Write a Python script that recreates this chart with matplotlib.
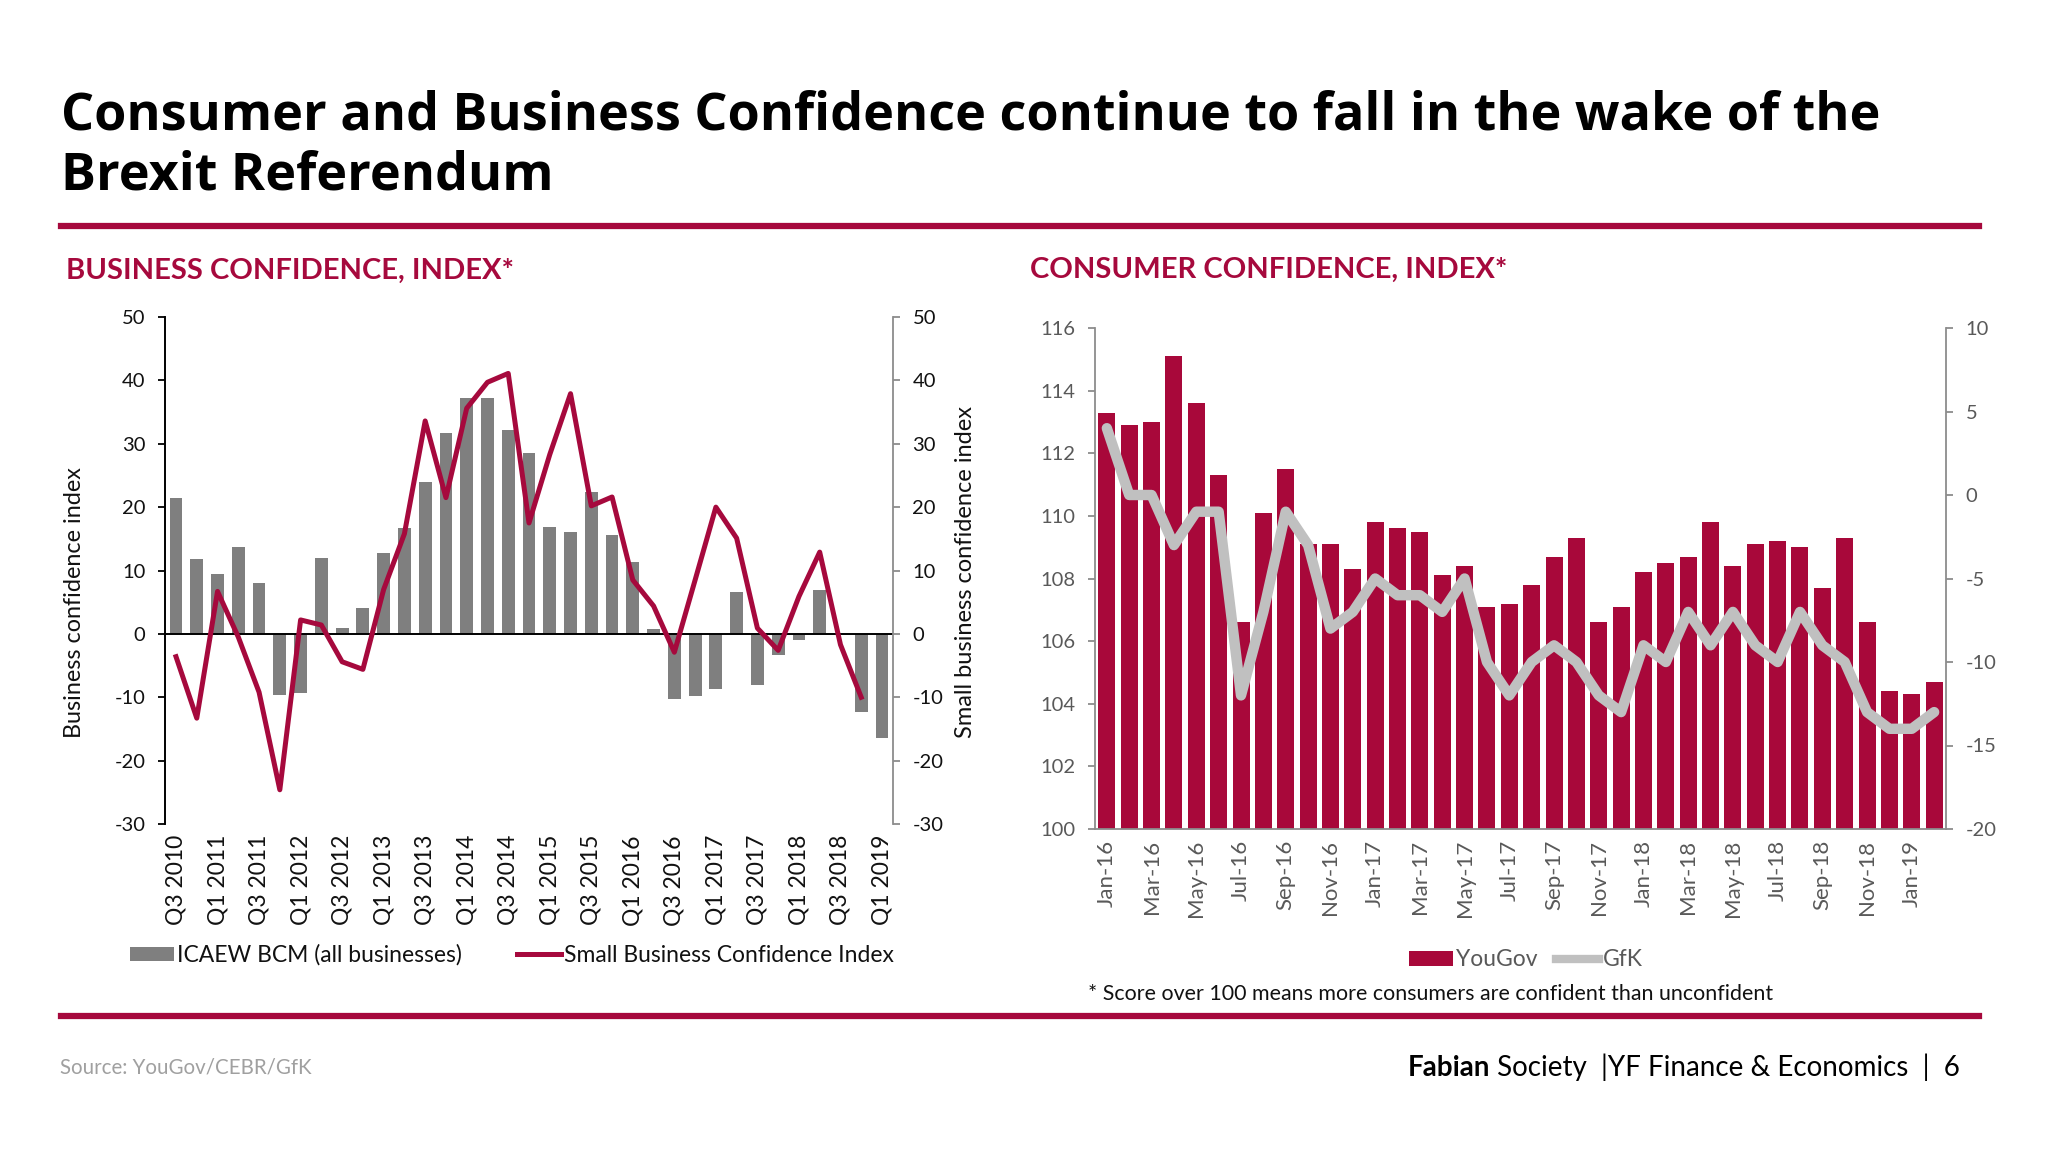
import matplotlib
matplotlib.use('Agg')
import matplotlib.pyplot as plt
import numpy as np
from matplotlib.lines import Line2D
from matplotlib.patches import Patch
from matplotlib.text import Annotation

plt.rcParams['font.family'] = ['Lato', 'DejaVu Sans']
plt.rcParams['axes.unicode_minus'] = False

# ---------------- data ----------------
quarters = ['Q3 2010', 'Q4 2010', 'Q1 2011', 'Q2 2011', 'Q3 2011', 'Q4 2011',
            'Q1 2012', 'Q2 2012', 'Q3 2012', 'Q4 2012', 'Q1 2013', 'Q2 2013',
            'Q3 2013', 'Q4 2013', 'Q1 2014', 'Q2 2014', 'Q3 2014', 'Q4 2014',
            'Q1 2015', 'Q2 2015', 'Q3 2015', 'Q4 2015', 'Q1 2016', 'Q2 2016',
            'Q3 2016', 'Q4 2016', 'Q1 2017', 'Q2 2017', 'Q3 2017', 'Q4 2017',
            'Q1 2018', 'Q2 2018', 'Q3 2018', 'Q4 2018', 'Q1 2019']
icaew_bcm = [21.4, 11.8, 9.5, 13.7, 8.0, -9.7, -9.3, 12.0, 1.0, 4.1,
             12.8, 16.7, 24.0, 31.7, 37.2, 37.2, 32.2, 28.6, 16.8, 16.1,
             22.4, 15.6, 11.3, 0.8, -10.2, -9.8, -8.7, 6.6, -8.0, -3.4,
             -1.0, 6.9, 0.0, -12.3, -16.4]
small_business = [-3.6, -13.3, 6.7, -0.5, -9.2, -24.6, 2.2, 1.4, -4.4, -5.6,
                  7.0, 15.8, 33.6, 21.5, 35.6, 39.7, 41.1, 17.5, 28.3, 37.9,
                  20.2, 21.6, 8.5, 4.4, -2.9, 8.5, 20.0, 15.1, 0.9, -2.6,
                  5.9, 12.9, -1.7, -10.0, np.nan]

months = ['Jan-16', 'Feb-16', 'Mar-16', 'Apr-16', 'May-16', 'Jun-16', 'Jul-16',
          'Aug-16', 'Sep-16', 'Oct-16', 'Nov-16', 'Dec-16', 'Jan-17', 'Feb-17',
          'Mar-17', 'Apr-17', 'May-17', 'Jun-17', 'Jul-17', 'Aug-17', 'Sep-17',
          'Oct-17', 'Nov-17', 'Dec-17', 'Jan-18', 'Feb-18', 'Mar-18', 'Apr-18',
          'May-18', 'Jun-18', 'Jul-18', 'Aug-18', 'Sep-18', 'Oct-18', 'Nov-18',
          'Dec-18', 'Jan-19', 'Feb-19']
yougov = [113.3, 112.9, 113.0, 115.1, 113.6, 111.3, 106.6, 110.1, 111.5, 109.1,
          109.1, 108.3, 109.8, 109.6, 109.5, 108.1, 108.4, 107.1, 107.2, 107.8,
          108.7, 109.3, 106.6, 107.1, 108.2, 108.5, 108.7, 109.8, 108.4, 109.1,
          109.2, 109.0, 107.7, 109.3, 106.6, 104.4, 104.3, 104.7]
gfk = [4, 0, 0, -3, -1, -1, -12, -7, -1, -3, -8, -7, -5, -6, -6, -7, -5, -10,
       -12, -10, -9, -10, -12, -13, -9, -10, -7, -9, -7, -9, -10, -7, -9, -10,
       -13, -14, -14, -13]

# ---------------- style ----------------
RED = '#A6093D'
BAR_RED = '#A8083A'
GREY_BAR = '#7F7F7F'
GFK_GREY = '#C0C0C0'
AXIS_GREY = '#8C8C8C'
TXT_GREY = '#595959'

W, H = 2048, 1152
fig = plt.figure(figsize=(W / 100, H / 100), dpi=100)
fig.patch.set_facecolor('white')


def fx(px):
    return px / W


def fy(py):
    return 1 - py / H


# title
title_kw = dict(fontsize=37.5, weight='bold', color='black', va='baseline', ha='left',
                family=['Open Sans', 'DejaVu Sans'])
fig.text(fx(61), fy(130), 'Consumer and Business Confidence continue to fall in the wake of the',
         **title_kw)
fig.text(fx(61), fy(189), 'Brexit Referendum', **title_kw)
fig.add_artist(Line2D([fx(61), fx(1979)], [fy(226), fy(226)], color=RED, lw=4.5))
fig.add_artist(Line2D([fx(61), fx(1979)], [fy(1016), fy(1016)], color=RED, lw=4.5))

# section headings
fig.text(fx(66), fy(279), 'BUSINESS CONFIDENCE, INDEX*', fontsize=21, weight='bold',
         color=RED, va='baseline', ha='left')
fig.text(fx(1030), fy(278), 'CONSUMER CONFIDENCE, INDEX*', fontsize=21, weight='bold',
         color=RED, va='baseline', ha='left')

# ---------------- left chart ----------------
ax1 = fig.add_axes([fx(165), fy(824), fx(893) - fx(165), fy(317) - fy(824)])
xq = np.arange(len(quarters))
ax1.bar(xq, icaew_bcm, width=0.62, color=GREY_BAR, zorder=2)
ax1.axhline(0, color='black', lw=1.4, zorder=3)
ax1.set_xlim(-0.53, len(quarters) - 1 + 0.53)
ax1.set_ylim(-30, 50)
ax1.set_yticks(np.arange(-30, 51, 10))
for s in ['top', 'bottom', 'right']:
    ax1.spines[s].set_visible(False)
ax1.spines['left'].set_color('black')
ax1.spines['left'].set_linewidth(1.4)
ax1.tick_params(axis='y', direction='out', length=5, width=1.3, color='black',
                labelsize=14.5, labelcolor='#111111', pad=9)
ax1.set_xticks(xq[::2])
ax1.set_xticklabels(quarters[::2], rotation=90, fontsize=16.5, color='#111111')
ax1.tick_params(axis='x', length=0, pad=8)
ax1.set_facecolor('none')

ax1b = ax1.twinx()
ax1b.plot(xq, small_business, color=RED, lw=3.6, zorder=4)
ax1b.set_ylim(-30, 50)
ax1b.set_yticks(np.arange(-30, 51, 10))
for s in ['top', 'bottom', 'left']:
    ax1b.spines[s].set_visible(False)
ax1b.spines['right'].set_color(AXIS_GREY)
ax1b.spines['right'].set_linewidth(1.3)
ax1b.tick_params(axis='y', direction='out', length=5, width=1.3, color=AXIS_GREY,
                 labelsize=14.5, labelcolor='#111111', pad=9)

fig.text(fx(75), fy(603), 'Business confidence index', rotation=90, fontsize=16.8,
         color='#111111', ha='center', va='center')
fig.text(fx(965), fy(572), 'Small business confidence index', rotation=90, fontsize=17,
         color='#111111', ha='center', va='center')

h1 = [Patch(facecolor=GREY_BAR, edgecolor='none'),
      Line2D([0], [0], color=RED, lw=3.6)]
fig.legend(h1, ['ICAEW BCM (all businesses)', 'Small Business Confidence Index'],
           loc='center', bbox_to_anchor=(fx(512), fy(955)), ncol=2, frameon=False,
           fontsize=16.5, handlelength=1.9, handleheight=0.55, handletextpad=0.15,
           columnspacing=2.4, labelcolor='#111111')

# ---------------- right chart ----------------
ax2 = fig.add_axes([fx(1095), fy(829), fx(1946) - fx(1095), fy(328) - fy(829)])
xm = np.arange(len(months))
ax2.bar(xm, yougov, width=0.76, color=BAR_RED, zorder=2)
ax2.set_xlim(-0.53, len(months) - 1 + 0.53)
ax2.set_ylim(100, 116)
ax2.set_yticks(np.arange(100, 117, 2))
for s in ['top', 'right']:
    ax2.spines[s].set_visible(False)
for s in ['left', 'bottom']:
    ax2.spines[s].set_color(AXIS_GREY)
    ax2.spines[s].set_linewidth(1.3)
ax2.tick_params(axis='y', direction='out', length=5, width=1.3, color=AXIS_GREY,
                labelsize=14.5, labelcolor=TXT_GREY, pad=9)
ax2.set_xticks(xm[::2])
ax2.set_xticklabels(months[::2], rotation=90, fontsize=16, color=TXT_GREY)
ax2.tick_params(axis='x', length=0, pad=8)
ax2.set_facecolor('none')

ax2b = ax2.twinx()
ax2b.plot(xm, gfk, color=GFK_GREY, lw=7.5, zorder=4, solid_capstyle='round')
ax2b.set_ylim(-20, 10)
ax2b.set_yticks(np.arange(-20, 11, 5))
for s in ['top', 'bottom', 'left']:
    ax2b.spines[s].set_visible(False)
ax2b.spines['right'].set_color(AXIS_GREY)
ax2b.spines['right'].set_linewidth(1.3)
ax2b.tick_params(axis='y', direction='out', length=5, width=1.3, color=AXIS_GREY,
                 labelsize=14.5, labelcolor=TXT_GREY, pad=9)

h2 = [Patch(facecolor=BAR_RED, edgecolor='none'),
      Line2D([0], [0], color=GFK_GREY, lw=6)]
fig.legend(h2, ['YouGov', 'GfK'], loc='center', bbox_to_anchor=(fx(1526), fy(960)),
           ncol=2, frameon=False, fontsize=16.5, handlelength=1.9, handleheight=0.6,
           handletextpad=0.15, columnspacing=0.8, labelcolor=TXT_GREY)

fig.text(fx(1088), fy(994), '* Score over 100 means more consumers are confident than unconfident',
         fontsize=15.4, color='#111111', ha='left', va='center')

# footer
fig.text(fx(60), fy(1068), 'Source: YouGov/CEBR/GfK', fontsize=14.8, color='#A0A0A0',
         ha='left', va='center')
t1 = fig.text(fx(1408), fy(1068), 'Fabian', fontsize=20, weight='bold', color='black',
              ha='left', va='center')
fig.add_artist(Annotation(' Society  |YF Finance & Economics  |  6', xy=(1, 0),
                          xycoords=t1, va='bottom', ha='left', fontsize=20,
                          color='black'))

fig.savefig('out.png', dpi=100, facecolor='white')
